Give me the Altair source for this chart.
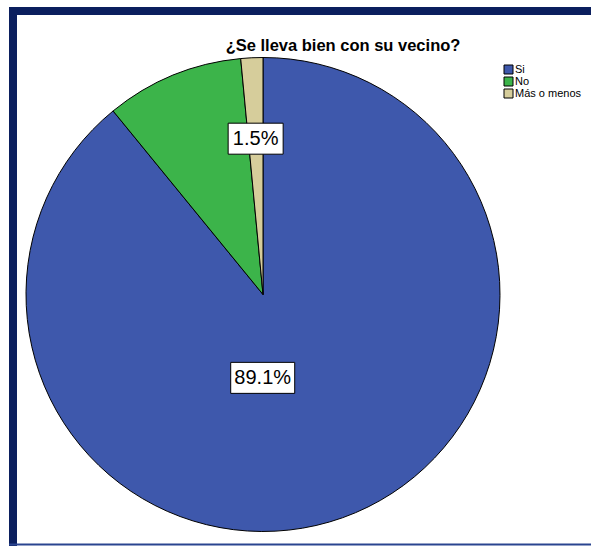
import altair as alt
import pandas as pd

titulo = "¿Se lleva bien con su vecino?"
categorias = ["Si", "No", "Más o menos"]
porcentajes = [89.1, 9.4, 1.5]
etiquetas = ["89.1%", "", "1.5%"]
colores = ["#3e58ac", "#3cb44a", "#d6cd9b"]

df = pd.DataFrame({"cat": categorias, "pct": porcentajes, "etq": etiquetas,
                   "idx": list(range(len(categorias)))})

W, H = 591, 546
CX, CY, R = 263, 294.5, 237
FONT = "Liberation Sans"

base = alt.Chart(df)

pie = base.mark_arc(outerRadius=R, stroke="black", strokeWidth=1).encode(
    theta=alt.Theta("pct:Q", stack=True),
    order=alt.Order("idx:Q"),
    color=alt.Color(
        "cat:N",
        scale=alt.Scale(domain=categorias, range=colores),
        legend=alt.Legend(
            title=None, orient="none", legendX=503, legendY=64,
            symbolType="square", symbolSize=81, symbolStrokeColor="black",
            symbolStrokeWidth=1, labelFont=FONT, labelFontSize=11,
            labelColor="black", rowPadding=-3.5, labelOffset=1, padding=0,
        ),
    ),
    x=alt.value(CX),
    y=alt.value(CY),
)

lab = (
    base.transform_joinaggregate(total="sum(pct)")
    .transform_window(cum="sum(pct)", sort=[alt.SortField("idx")], frame=[None, 0])
    .transform_calculate(mid="(datum.cum - datum.pct/2)/datum.total*2*PI")
    .transform_calculate(r="datum.cat == 'Si' ? 88.5 : 156")
    .transform_calculate(shift="datum.cat == 'Si' ? -30 : 0")
    .transform_calculate(px=f"{CX} + datum.r*sin(datum.mid) + datum.shift")
    .transform_calculate(py=f"{CY} - datum.r*cos(datum.mid)")
    .transform_calculate(bw="9*length(datum.etq) + 19")
    .transform_calculate(bx1="datum.px - datum.bw/2", bx2="datum.px + datum.bw/2",
                         by1="datum.py - 15.5", by2="datum.py + 15.5")
    .transform_filter("datum.etq != ''")
)

boxes = lab.mark_rect(fill="white", stroke="black", strokeWidth=1).encode(
    x=alt.X("bx1:Q", scale=None, axis=None),
    x2="bx2:Q",
    y=alt.Y("by1:Q", scale=None, axis=None),
    y2="by2:Q",
)

texts = lab.mark_text(font=FONT, fontSize=20, color="black", baseline="middle",
                      align="center").encode(
    x=alt.X("px:Q", scale=None, axis=None),
    y=alt.Y("py:Q", scale=None, axis=None),
    text="etq:N",
)

title = alt.Chart(pd.DataFrame({"t": [titulo]})).mark_text(
    font=FONT, fontSize=16.5, fontWeight="bold", color="black", align="center",
    baseline="middle"
).encode(x=alt.value(343), y=alt.value(45.5), text="t:N")

navy = "#0b1f5e"
top = alt.Chart(pd.DataFrame({"a": [0]})).mark_rule(color=navy, strokeWidth=8).encode(
    x=alt.value(9), x2=alt.value(W), y=alt.value(11))
left = alt.Chart(pd.DataFrame({"a": [0]})).mark_rule(color=navy, strokeWidth=8).encode(
    x=alt.value(13), y=alt.value(7), y2=alt.value(H))
bottom = alt.Chart(pd.DataFrame({"a": [0]})).mark_rule(color="#2a4590", strokeWidth=2).encode(
    x=alt.value(9), x2=alt.value(W), y=alt.value(544.5))

chart = alt.layer(pie, boxes, texts, title, top, left, bottom).properties(
    width=W, height=H, padding=0, autosize=alt.AutoSizeParams(type="none"),
    background="white",
).configure_view(stroke=None)

chart.save("out.html", embed_options={"renderer": "svg", "actions": False})
